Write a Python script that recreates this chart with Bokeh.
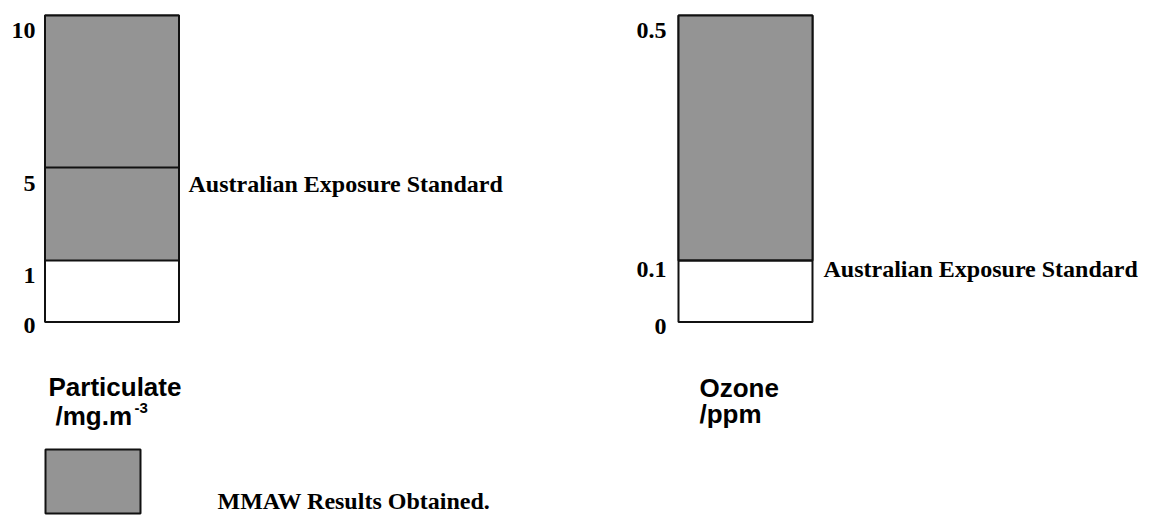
import numpy as np
from bokeh.plotting import figure
from bokeh.models import Range1d, ColumnDataSource
from bokeh.core.properties import value
from bokeh.embed import file_html
from bokeh.resources import INLINE

# ---------------- data ----------------
particulate_ticks = [0, 1, 5, 10]
particulate_tick_labels = ["0", "1", "5", "10"]
particulate_result = [1, 10]          # MMAW results obtained (range)
particulate_standard = 5              # Australian Exposure Standard

ozone_ticks = [0, 0.1, 0.5]
ozone_tick_labels = ["0", "0.1", "0.5"]
ozone_result = [0.1, 0.5]
ozone_standard = 0.1

standard_label = "Australian Exposure Standard"
legend_label = "MMAW Results Obtained."

# ---------------- layout (schematic scale positions) ----------------
W, H = 1156, 515
p = figure(width=W, height=H, x_range=Range1d(0, W), y_range=Range1d(H, 0),
           output_backend="svg", toolbar_location=None, min_border=0)
p.axis.visible = False
p.grid.visible = False
p.outline_line_color = None

serif = value("Liberation Serif")
sans = value("Liberation Sans")
FILL = "#949494"
EDGE = "#111111"

# vertical screen position of each tick level (schematic, non-linear)
part_pos = [321.5, 260, 167, 15]
ozone_pos = [321.5, 260, 15]

def ypos(v, ticks, pos):
    return float(np.interp(v, ticks, pos))

panels = [
    dict(ticks=particulate_ticks, labels=particulate_tick_labels, pos=part_pos,
         result=particulate_result, std=particulate_standard,
         x0=44.5, x1=178.5, lab_x=35, lab_off=[3.5, 15, 16, 15],
         std_x=188, std_off=16),
    dict(ticks=ozone_ticks, labels=ozone_tick_labels, pos=ozone_pos,
         result=ozone_result, std=ozone_standard,
         x0=678, x1=812, lab_x=666, lab_off=[4.5, 9, 15],
         std_x=823, std_off=8),
]

for pn in panels:
    t, ps = pn["ticks"], pn["pos"]
    y_bot = ypos(min(t), t, ps)
    y_top = ypos(max(t), t, ps)
    r0 = ypos(pn["result"][0], t, ps)
    r1 = ypos(pn["result"][1], t, ps)
    # white frame
    p.quad(left=[pn["x0"]], right=[pn["x1"]], bottom=[y_bot], top=[y_top],
           fill_color="white", line_color=EDGE, line_width=2)
    # results band
    p.quad(left=[pn["x0"]], right=[pn["x1"]], bottom=[r0], top=[r1],
           fill_color=FILL, line_color=EDGE, line_width=2)
    # standard line
    ys = ypos(pn["std"], t, ps)
    p.segment(x0=[pn["x0"]], x1=[pn["x1"]], y0=[ys], y1=[ys],
              line_color=EDGE, line_width=2)
    # tick labels
    src = ColumnDataSource(dict(
        x=[pn["lab_x"]] * len(t),
        y=[ypos(v, t, ps) + o for v, o in zip(t, pn["lab_off"])],
        text=pn["labels"]))
    p.text(x="x", y="y", text="text", source=src, text_font=serif,
           text_font_style="bold", text_font_size="24px", text_align="right",
           text_baseline="alphabetic", text_color="black")
    # standard label
    p.text(x=[pn["std_x"]], y=[ys + pn["std_off"]], text=[standard_label],
           text_font=serif, text_font_style="bold", text_font_size="24px",
           text_align="left", text_baseline="alphabetic", text_color="black")

# quantity titles
p.text(x=[48, 55], y=[386, 415], text=["Particulate", "/mg.m"],
       text_font=sans, text_font_style="bold", text_font_size="26px",
       text_baseline="alphabetic", text_color="black")
p.text(x=[134], y=[407], text=["-3"], text_font=sans, text_font_style="bold",
       text_font_size="15px", text_baseline="alphabetic", text_color="black")
p.text(x=[699, 699], y=[387, 413], text=["Ozone", "/ppm"],
       text_font=sans, text_font_style="bold", text_font_size="26px",
       text_baseline="alphabetic", text_color="black")

# legend
p.quad(left=[45], right=[140], top=[449], bottom=[513], fill_color=FILL,
       line_color=EDGE, line_width=2)
p.text(x=[217], y=[500], text=[legend_label], text_font=serif,
       text_font_style="bold", text_font_size="24px", text_baseline="alphabetic",
       text_color="black")

open("out.html", "w").write(file_html(p, INLINE))
